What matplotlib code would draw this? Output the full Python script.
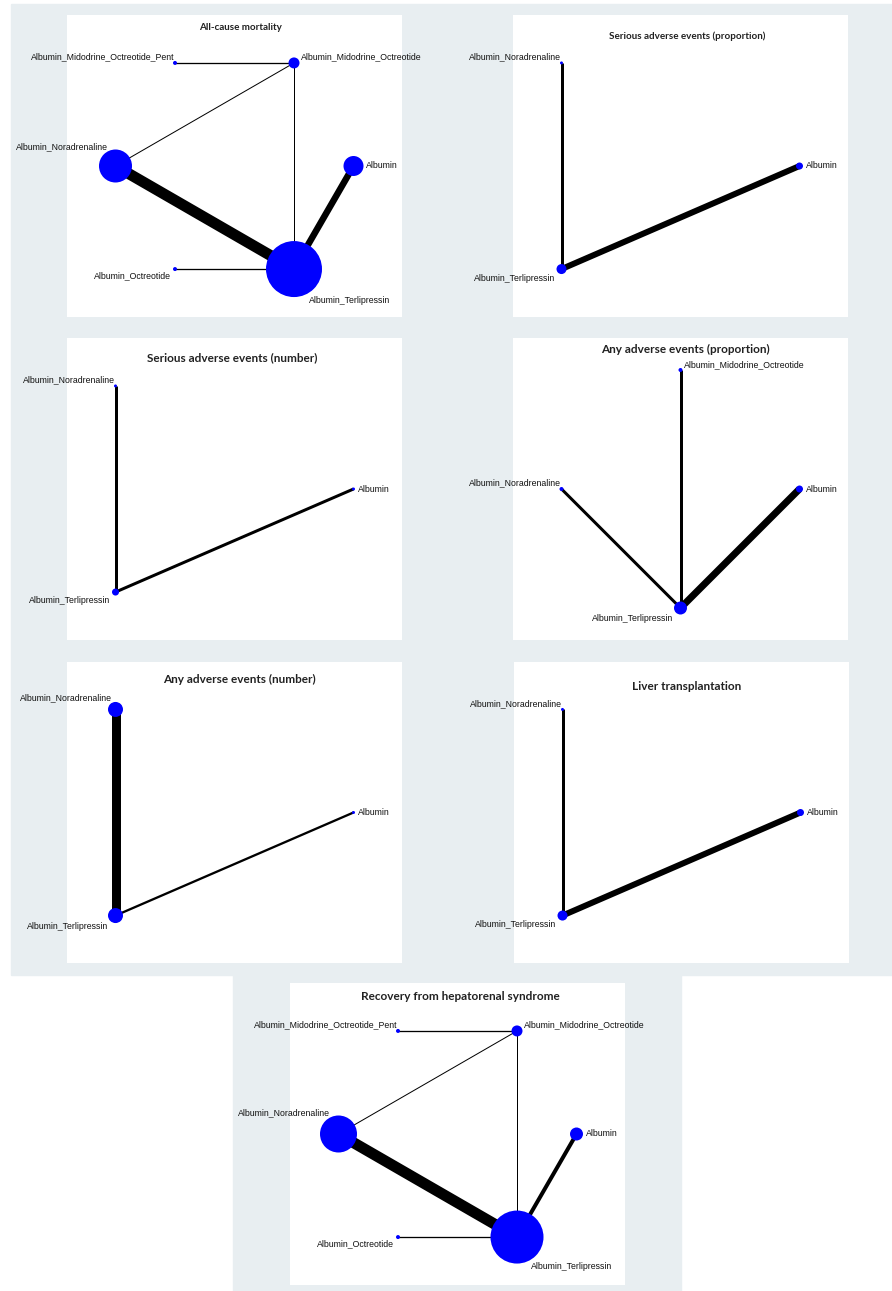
import numpy as np
import matplotlib
matplotlib.use('Agg')
import matplotlib.pyplot as plt
from matplotlib.patches import Rectangle

# treatment names
ALB = 'Albumin'
MID = 'Albumin_Midodrine_Octreotide'
PENT = 'Albumin_Midodrine_Octreotide_Pent'
NOR = 'Albumin_Noradrenaline'
OCT = 'Albumin_Octreotide'
TER = 'Albumin_Terlipressin'

titles = [
    'All-cause mortality',
    'Serious adverse events (proportion)',
    'Serious adverse events (number)',
    'Any adverse events (proportion)',
    'Any adverse events (number)',
    'Liver transplantation',
    'Recovery from hepatorenal syndrome',
]

# nodes go counter-clockwise round the circle, starting at 3 o'clock
nodes = [
    [ALB, MID, PENT, NOR, OCT, TER],
    [ALB, NOR, TER],
    [ALB, NOR, TER],
    [ALB, MID, NOR, TER],
    [ALB, NOR, TER],
    [ALB, NOR, TER],
    [ALB, MID, PENT, NOR, OCT, TER],
]

# node weight (area of the node)
node_weight = [
    [400, 121, 16, 1089, 16, 3136],
    [49, 9, 100],
    [9, 9, 49],
    [49, 16, 16, 169],
    [9, 225, 225],
    [49, 9, 100],
    [169, 121, 16, 1369, 16, 2809],
]

edges = [
    [(PENT, MID), (MID, NOR), (MID, TER), (NOR, TER), (ALB, TER), (OCT, TER)],
    [(NOR, TER), (ALB, TER)],
    [(NOR, TER), (ALB, TER)],
    [(MID, TER), (NOR, TER), (ALB, TER)],
    [(NOR, TER), (ALB, TER)],
    [(NOR, TER), (ALB, TER)],
    [(PENT, MID), (MID, NOR), (MID, TER), (NOR, TER), (ALB, TER), (OCT, TER)],
]

# edge weight (line thickness)
edge_weight = [
    [1.3, 1.0, 1.0, 11, 6.5, 1.3],
    [3, 6],
    [3, 3],
    [3, 3, 7],
    [9, 2.3],
    [3, 6],
    [1.3, 1.0, 1.0, 11, 4, 1.3],
]

# ---- layout (pixels) ----
W, H, DPI = 892, 1291, 100
BG = '#e8eef1'
boxes = [
    (67, 15, 402, 317), (513, 15, 848, 317),
    (67, 338, 402, 640), (513, 338, 848, 640),
    (67, 662, 402, 963), (514, 662, 849, 963),
    (290, 983, 625, 1285),
]
title_off = [13, 21, 20, 11, 17, 25, 14]
title_x = [0.518, 0.52, 0.494, 0.515, 0.515, 0.515, 0.51]
title_size = [7.1, 7.1, 8.5, 8.5, 8.5, 8.5, 8.5]
RADIUS_PX = 119.0
PT = 72.0 / DPI

fig = plt.figure(figsize=(W / DPI, H / DPI), dpi=DPI, facecolor='white')

# light grey-blue background blocks
fig.patches.append(Rectangle((11 / W, 1 - 975 / H), (W - 11) / W, (975 - 4) / H,
                             transform=fig.transFigure, color=BG, zorder=-5))
fig.patches.append(Rectangle((233 / W, 0), (681 - 233) / W, (H - 975) / H,
                             transform=fig.transFigure, color=BG, zorder=-5))


def clock(a):
    if a < 1:
        return 3
    if a <= 90:
        return 1
    if a <= 180:
        return 11
    if a <= 270:
        return 7
    return 5


def label_offset(pos, r):
    if pos == 3:
        return r + 2.5, 0, 'left'
    if pos == 1:
        return r + 1, 0.3 * r + 4.5, 'left'
    if pos == 11:
        return -0.45 * r, 0.9 * r + 4.5, 'right'
    if pos == 7:
        return -(0.7 * r + 2.5), -(0.7 * r + 5.5), 'right'
    return 0.47 * r + 2, -(0.88 * r + 6.5), 'left'


for i, (x0, y0, x1, y1) in enumerate(boxes):
    ax = fig.add_axes([x0 / W, 1 - y1 / H, (x1 - x0) / W, (y1 - y0) / H])
    ax.set_facecolor('white')
    for s in ax.spines.values():
        s.set_visible(False)
    ax.set_xticks([])
    ax.set_yticks([])

    n = len(nodes[i])
    ang = np.arange(n) * 360.0 / n
    xs = np.round(np.cos(np.radians(ang)), 6)
    ys = np.round(np.sin(np.radians(ang)), 6)
    pos = dict(zip(nodes[i], zip(xs, ys)))

    half_w = (x1 - x0) / 2
    half_h = (y1 - y0) / 2
    xmid = (xs.min() + xs.max()) / 2
    xhalf = (xs.max() - xs.min()) / 2
    ax.set_xlim(xmid - xhalf * half_w / RADIUS_PX, xmid + xhalf * half_w / RADIUS_PX)
    ax.set_ylim(-half_h / RADIUS_PX, half_h / RADIUS_PX)

    for (a, b), w in zip(edges[i], edge_weight[i]):
        ax.plot([pos[a][0], pos[b][0]], [pos[a][1], pos[b][1]], color='black',
                lw=w * PT, solid_capstyle='butt', zorder=1)

    wts = np.array(node_weight[i], dtype=float)
    ax.scatter(xs, ys, s=wts * PT ** 2, color='#0000ff', edgecolors='none', zorder=2)

    for name, a, x, y, wt in zip(nodes[i], ang, xs, ys, wts):
        r = np.sqrt(wt) / 2
        dx, dy, ha = label_offset(clock(a), r)
        ax.annotate(name, (x, y), xytext=(dx, dy), textcoords='offset pixels',
                    ha=ha, va='center', fontsize=6.3, family='Liberation Sans',
                    color='#111111', zorder=3, annotation_clip=False)

    ax.text(title_x[i], 1 - title_off[i] / (y1 - y0), titles[i], transform=ax.transAxes,
            ha='center', va='center', fontsize=title_size[i], fontweight='bold',
            family='Lato', color='#222222')

fig.savefig('out.png', dpi=DPI, facecolor='white')
